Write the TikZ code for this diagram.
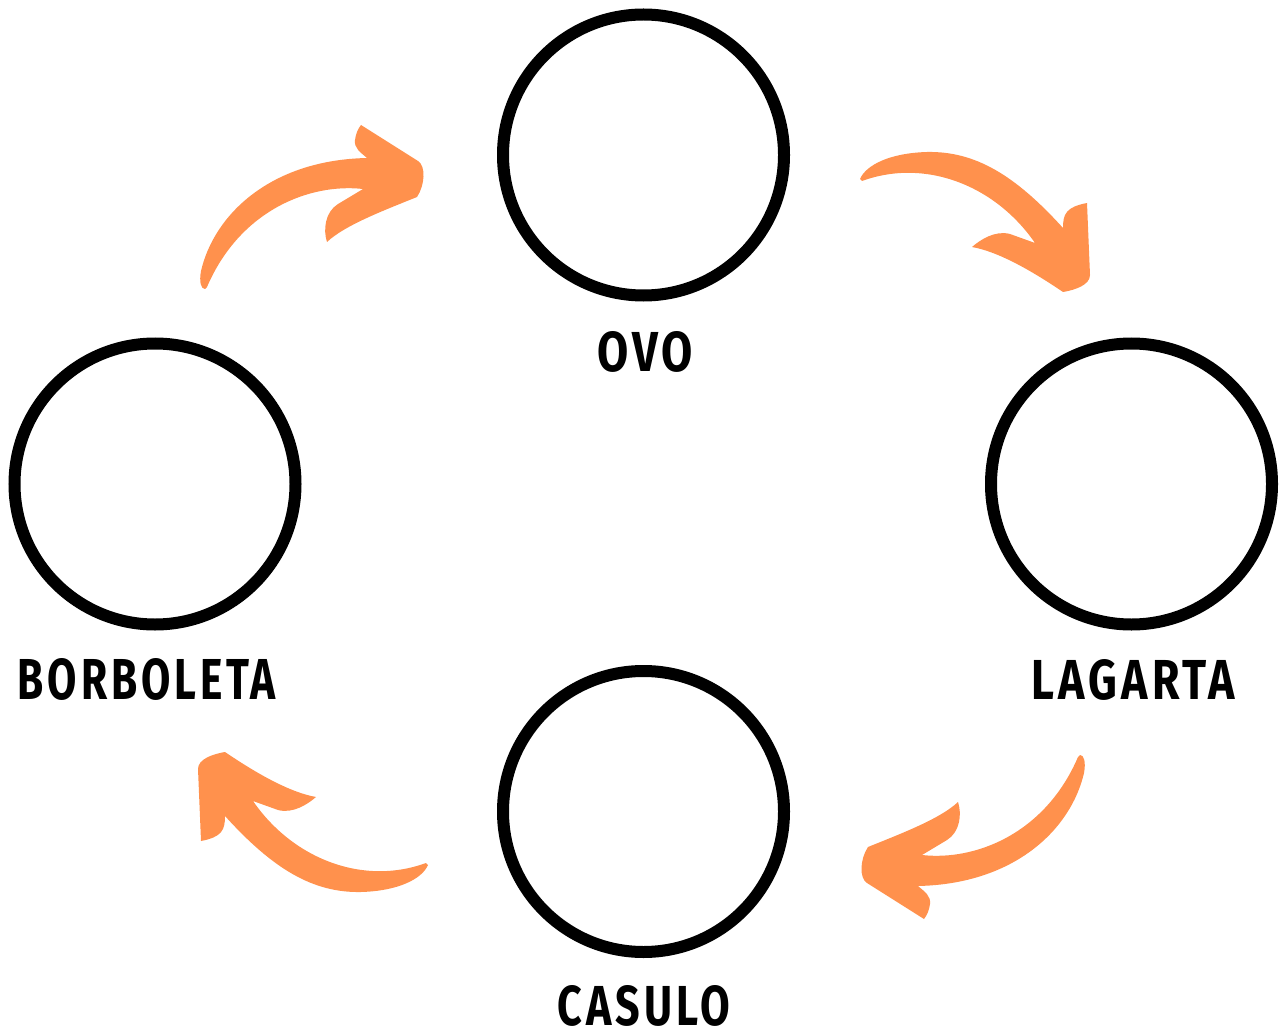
\documentclass[tikz,border=0pt]{standalone}
\usepackage{fontspec}
\newfontfamily\labelfont[LetterSpace=9]{Fira Sans}
\usepackage{graphicx}
\definecolor{arroworange}{HTML}{FF914D}
\begin{document}
\begin{tikzpicture}[x=1pt,y=-1pt,
  stage/.style={circle,draw=black,line width=12pt,minimum size=281pt,inner sep=0pt,fill=white},
  stagelabel/.style={inner sep=0pt,font=\labelfont\bfseries},
  arrowfill/.style={fill=arroworange,draw=none}]
\useasboundingbox[fill=white] (0,0) rectangle (1282,1032);

\node[stage] (ovo) at (643.5,155) {};
\node[stage] (borboleta) at (155,484) {};
\node[stage] (lagarta) at (1131.5,484) {};
\node[stage] (casulo) at (643.5,811.5) {};

\node[stagelabel] (lovo) at (645,352) {\resizebox{96pt}{40pt}{OVO}};
\node[stagelabel] (lborboleta) at (147,679) {\resizebox{258pt}{41pt}{BORBOLETA}};
\node[stagelabel] (llagarta) at (1133.5,680) {\resizebox{203pt}{40pt}{LAGARTA}};
\node[stagelabel] (lcasulo) at (644,1006) {\resizebox{172pt}{40pt}{CASULO}};

\newcommand{\arrowA}{%
  (205,289) .. controls (201,289) and (199,282) .. (201,271)
  .. controls (214,215) and (270,160) .. (367,158)
  .. controls (360,152) and (354,148) .. (355,140)
  .. controls (356,133) and (358,129) .. (361,125)
  -- (418,161) .. controls (426,166) and (425,185) .. (417,197)
  .. controls (385,210) and (345,225) .. (327,242)
  .. controls (323,230) and (325,212) .. (338,204)
  -- (363,189)
  .. controls (310,183) and (240,210) .. (207,287)
  -- cycle}
\newcommand{\arrowB}{%
  (860,179) .. controls (866,165) and (890,153) .. (927,152)
  .. controls (975,151) and (1015,175) .. (1063,228)
  .. controls (1063,214) and (1066,207) .. (1087,203)
  -- (1090,275) .. controls (1090,285) and (1075,290) .. (1063,292)
  .. controls (1035,273) and (1000,252) .. (972,247)
  .. controls (980,240) and (995,230) .. (1010,234)
  -- (1035,243)
  .. controls (995,185) and (925,158) .. (862,181)
  -- cycle}

\path[arrowfill] \arrowA;
\path[arrowfill] \arrowB;
\begin{scope}[rotate around={180:(642.5,522)}]
  \path[arrowfill] \arrowA;
\end{scope}
\begin{scope}[rotate around={180:(644,522)}]
  \path[arrowfill] \arrowB;
\end{scope}
\end{tikzpicture}
\end{document}
